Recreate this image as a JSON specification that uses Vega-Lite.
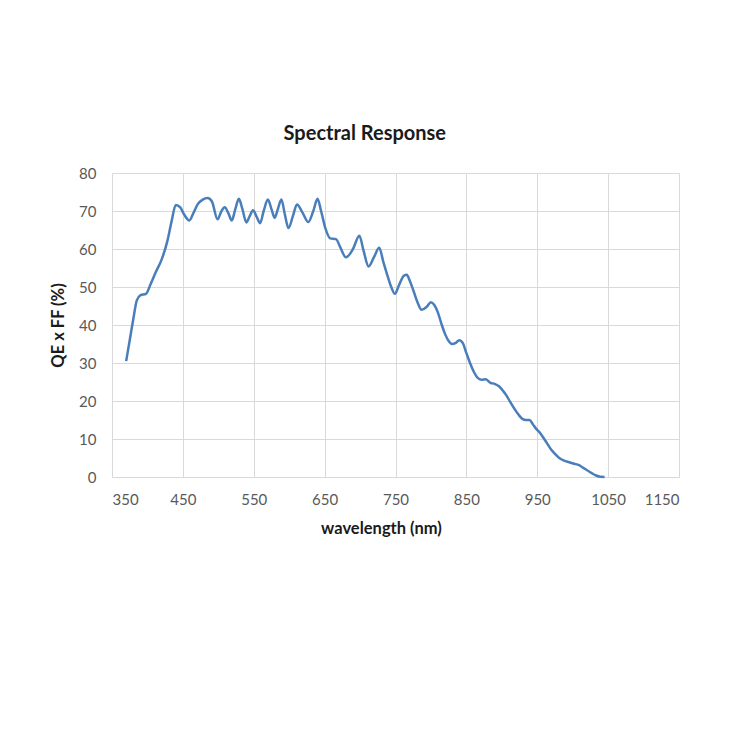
{
  "$schema": "https://vega.github.io/schema/vega-lite/v6.json",
  "width": 567,
  "height": 304,
  "padding": {"left": 50, "top": 124, "right": 5, "bottom": 5},
  "background": "white",
  "title": {"text": "Spectral Response", "font": "Lato", "fontSize": 20, "fontWeight": "bold", "color": "#1a1a1a", "offset": 22, "frame": "bounds", "anchor": "middle"},
  "data": {"values": [
    {"wl": 370, "qe": 30.5}, {"wl": 375, "qe": 36}, {"wl": 380, "qe": 41.5}, {"wl": 385, "qe": 46.5},
    {"wl": 390, "qe": 47.8}, {"wl": 398, "qe": 48.2}, {"wl": 405, "qe": 51}, {"wl": 412, "qe": 54},
    {"wl": 420, "qe": 57.2}, {"wl": 428, "qe": 62}, {"wl": 434, "qe": 67.2}, {"wl": 440, "qe": 71.6},
    {"wl": 446, "qe": 71}, {"wl": 452, "qe": 69}, {"wl": 459, "qe": 67.5}, {"wl": 465, "qe": 69.5},
    {"wl": 471, "qe": 71.8}, {"wl": 478, "qe": 73}, {"wl": 485, "qe": 73.4}, {"wl": 491, "qe": 72.5},
    {"wl": 499, "qe": 67.8}, {"wl": 504, "qe": 69.8}, {"wl": 509, "qe": 71}, {"wl": 514, "qe": 69.5},
    {"wl": 519, "qe": 67.5}, {"wl": 524, "qe": 70.5}, {"wl": 529, "qe": 73.2}, {"wl": 534, "qe": 70.5},
    {"wl": 539.5, "qe": 67}, {"wl": 544, "qe": 68.5}, {"wl": 549, "qe": 70.2}, {"wl": 554, "qe": 68.5},
    {"wl": 559, "qe": 66.8}, {"wl": 564, "qe": 70}, {"wl": 570, "qe": 73}, {"wl": 575, "qe": 70.5},
    {"wl": 579.5, "qe": 68.2}, {"wl": 584, "qe": 70.5}, {"wl": 589, "qe": 73}, {"wl": 594, "qe": 69},
    {"wl": 599, "qe": 65.5}, {"wl": 605, "qe": 68.5}, {"wl": 611, "qe": 71.7}, {"wl": 619, "qe": 69.5},
    {"wl": 627, "qe": 67.1}, {"wl": 634, "qe": 70}, {"wl": 640, "qe": 73.2}, {"wl": 645, "qe": 70},
    {"wl": 651, "qe": 65.5}, {"wl": 658, "qe": 62.8}, {"wl": 666, "qe": 62.6}, {"wl": 672, "qe": 60.5},
    {"wl": 680, "qe": 57.8}, {"wl": 690, "qe": 60}, {"wl": 699, "qe": 63.5}, {"wl": 705, "qe": 59.5},
    {"wl": 712, "qe": 55.4}, {"wl": 720, "qe": 58}, {"wl": 727, "qe": 60.3}, {"wl": 733, "qe": 56.5},
    {"wl": 739, "qe": 52.8}, {"wl": 744, "qe": 50}, {"wl": 749, "qe": 48.2}, {"wl": 755, "qe": 50.5},
    {"wl": 762, "qe": 53}, {"wl": 766, "qe": 53.2}, {"wl": 770, "qe": 51.7}, {"wl": 775, "qe": 49.2},
    {"wl": 781, "qe": 46}, {"wl": 787, "qe": 44}, {"wl": 794, "qe": 44.8}, {"wl": 800, "qe": 46},
    {"wl": 805, "qe": 45.2}, {"wl": 810, "qe": 43.2}, {"wl": 815, "qe": 40.2}, {"wl": 820, "qe": 37.6},
    {"wl": 825, "qe": 35.8}, {"wl": 830, "qe": 35}, {"wl": 835, "qe": 35.3}, {"wl": 840, "qe": 36},
    {"wl": 845, "qe": 35.2}, {"wl": 850, "qe": 32.6}, {"wl": 856, "qe": 29.6}, {"wl": 861, "qe": 27.5},
    {"wl": 866, "qe": 26.1}, {"wl": 872, "qe": 25.6}, {"wl": 877, "qe": 25.7}, {"wl": 884, "qe": 24.8},
    {"wl": 890, "qe": 24.5}, {"wl": 896, "qe": 23.9}, {"wl": 902, "qe": 22.6}, {"wl": 906, "qe": 21.6},
    {"wl": 912, "qe": 19.7}, {"wl": 918, "qe": 17.9}, {"wl": 924, "qe": 16.3}, {"wl": 929, "qe": 15.3},
    {"wl": 934, "qe": 15}, {"wl": 939, "qe": 15}, {"wl": 944, "qe": 13.8}, {"wl": 948, "qe": 12.8},
    {"wl": 953, "qe": 11.8}, {"wl": 957, "qe": 10.8}, {"wl": 963, "qe": 9.1}, {"wl": 969, "qe": 7.4},
    {"wl": 975, "qe": 6.1}, {"wl": 981, "qe": 5}, {"wl": 988, "qe": 4.3}, {"wl": 995, "qe": 3.9},
    {"wl": 1002, "qe": 3.5}, {"wl": 1009, "qe": 3.1}, {"wl": 1015, "qe": 2.4}, {"wl": 1021, "qe": 1.7},
    {"wl": 1027, "qe": 1}, {"wl": 1033, "qe": 0.4}, {"wl": 1039, "qe": 0.05}, {"wl": 1045, "qe": 0}
  ]},
  "mark": {"type": "line", "color": "#4a7ebb", "strokeWidth": 2.5, "interpolate": "monotone"},
  "encoding": {
    "x": {
      "field": "wl", "type": "quantitative",
      "scale": {"domain": [350, 1150], "nice": false, "zero": false},
      "axis": {"values": [350, 450, 550, 650, 750, 850, 950, 1050, 1150], "format": "d", "title": "wavelength (nm)", "titleX": 269}
    },
    "y": {
      "field": "qe", "type": "quantitative",
      "scale": {"domain": [0, 80], "nice": false},
      "axis": {"values": [0, 10, 20, 30, 40, 50, 60, 70, 80], "format": "d", "title": "QE x FF (%)"}
    }
  },
  "config": {
    "view": {"stroke": null},
    "axis": {
      "labelFont": "Lato", "labelFontSize": 15, "labelColor": "#595959",
      "titleFont": "Lato", "titleFontSize": 16.5, "titleFontWeight": "bold", "titleColor": "#1a1a1a",
      "grid": true, "gridColor": "#d9d9d9", "gridWidth": 1,
      "ticks": false, "domain": false
    },
    "axisX": {"labelPadding": 15, "titlePadding": 13, "domain": true, "domainColor": "#d9d9d9"},
    "axisY": {"labelPadding": 16, "titlePadding": 12}
  }
}
